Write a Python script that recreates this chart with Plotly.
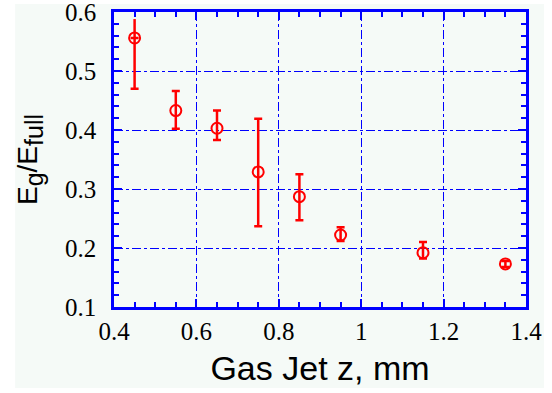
import plotly.graph_objects as go

# Data
gas_jet_z = [0.45, 0.55, 0.65, 0.75, 0.85, 0.95, 1.15, 1.35]
eg_over_efull = [0.556, 0.433, 0.403, 0.329, 0.287, 0.222, 0.192, 0.173]
err_plus = [0.0, 0.033, 0.030, 0.090, 0.038, 0.013, 0.018, 0.005]
err_minus = [0.086, 0.031, 0.020, 0.092, 0.040, 0.010, 0.010, 0.005]
# first point: upper bar drawn without a cap
first_upper_err = [0.032]

x_ticks = [0.4, 0.6, 0.8, 1.0, 1.2, 1.4]
y_ticks = [0.1, 0.2, 0.3, 0.4, 0.5, 0.6]

RED = "#ff0000"
BLUE = "#0000ff"
TINT = "#f5faf7"
SERIF = "Liberation Serif"
SANS = "Liberation Sans"

fig = go.Figure()
fig.add_trace(go.Scatter(
    x=gas_jet_z[:1], y=eg_over_efull[:1], mode="markers",
    marker=dict(size=11, color="rgba(0,0,0,0)"),
    error_y=dict(type="data", symmetric=False, array=first_upper_err,
                 arrayminus=[0], color=RED, thickness=2.5, width=0),
    showlegend=False, hoverinfo="skip", cliponaxis=False,
))
fig.add_trace(go.Scatter(
    x=gas_jet_z, y=eg_over_efull, mode="markers",
    marker=dict(symbol="circle-open", size=11, color=RED, line=dict(width=2, color=RED)),
    error_y=dict(type="data", symmetric=False, array=err_plus, arrayminus=err_minus,
                 color=RED, thickness=2.5, width=4),
    showlegend=False, cliponaxis=False,
))

fig.add_shape(type="rect", xref="paper", yref="paper",
              x0=-0.240, x1=1.0437, y0=-0.2746, y1=1.027,
              fillcolor=TINT, line=dict(width=0), layer="below")

axis_common = dict(
    showline=True, linecolor=BLUE, linewidth=2.5, mirror="allticks",
    ticks="inside", ticklen=8, tickwidth=2, tickcolor=BLUE,
    showgrid=True, gridcolor=BLUE, gridwidth=1, griddash="dashdot",
    zeroline=False, automargin=False, ticklabeloverflow="allow",
    tickfont=dict(family=SERIF, size=25, color="black"),
)

fig.update_xaxes(
    range=[0.4, 1.4], tickvals=x_ticks, ticklabelstandoff=0,
    minor=dict(dtick=0.05, ticks="inside", ticklen=5, tickwidth=2, tickcolor=BLUE, showgrid=False),
    title=dict(text="Gas Jet z, mm", font=dict(family=SANS, size=34, color="black"), standoff=13),
    **axis_common,
)
fig.update_yaxes(
    range=[0.1, 0.6], tickvals=y_ticks, ticklabelstandoff=10,
    minor=dict(dtick=0.02, ticks="inside", ticklen=5, tickwidth=2, tickcolor=BLUE, showgrid=False),
    title=dict(text="E<sub><span style='font-size:25px'>g</span></sub>/E<sub><span style='font-size:25px'>full</span></sub>",
               font=dict(family=SANS, size=28, color="black"), standoff=20),
    **axis_common,
)

fig.update_layout(
    width=552, height=393,
    margin=dict(l=114, r=26, t=12, b=86),
    paper_bgcolor="white", plot_bgcolor=TINT,
    font=dict(family=SERIF),
)

fig.write_html("out.html", config={"displayModeBar": False},
               post_script="document.body.style.margin='0px';")
